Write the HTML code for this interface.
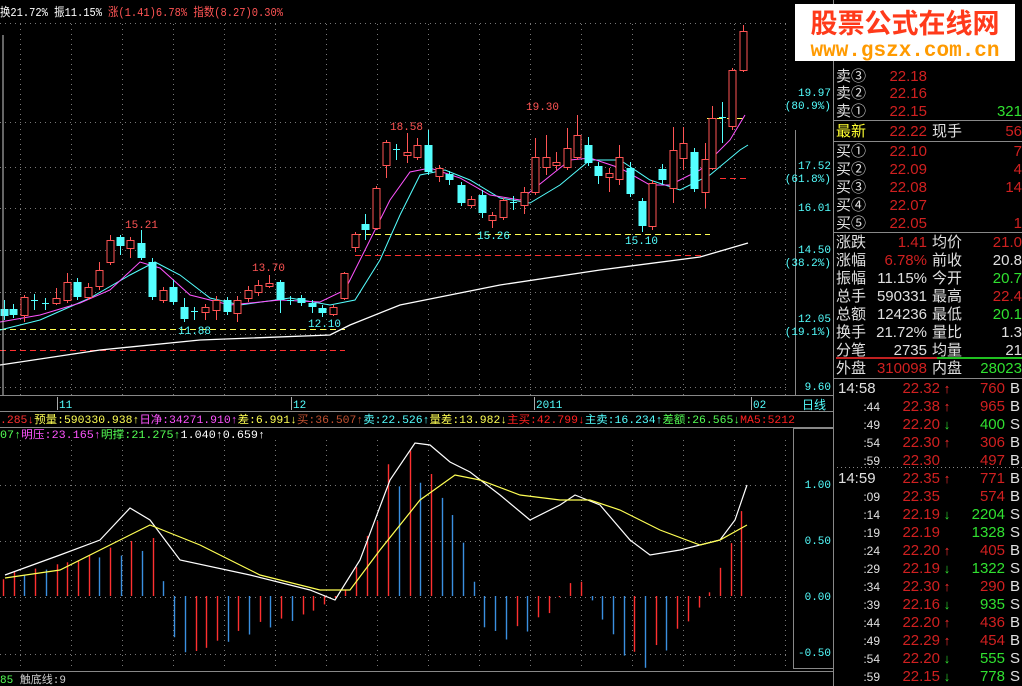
<!DOCTYPE html>
<html><head><meta charset="utf-8"><style>
body{margin:0;background:#000;width:1022px;height:686px;overflow:hidden;font-family:"Liberation Mono","Noto Sans CJK SC",monospace;}
svg{position:absolute;left:0;top:0}
text{font-family:"Liberation Mono","Noto Sans CJK SC",monospace}
.cj{font-family:"Liberation Sans","Noto Sans CJK SC",sans-serif}
</style></head><body>
<svg id="s" width="1022" height="686" viewBox="0 0 1022 686" xmlns="http://www.w3.org/2000/svg">
<rect width="1022" height="686" fill="#000"/>
<g id="grid"></g><g id="lines"></g><g id="cand"></g><g id="low"></g>
<text x="0" y="16" font-size="12" fill="#fff" textLength="102" lengthAdjust="spacingAndGlyphs">换21.72% 振11.15%</text>
<text x="108" y="16" font-size="12" fill="#ff5454" textLength="175" lengthAdjust="spacingAndGlyphs">涨(1.41)6.78% 指数(8.27)0.30%</text>
<line x1="3" y1="35" x2="3" y2="395" stroke="#ccc" stroke-width="1"/>
<line x1="0" y1="395.5" x2="833" y2="395.5" stroke="#888"/>
<line x1="0" y1="411.5" x2="833" y2="411.5" stroke="#888"/>
<line x1="0" y1="427.5" x2="833" y2="427.5" stroke="#888"/>
<line x1="0" y1="671.5" x2="833" y2="671.5" stroke="#888"/>
<line x1="795.5" y1="130" x2="795.5" y2="395" stroke="#888"/>
<rect x="793.5" y="428.5" width="40" height="240" fill="none" stroke="#888"/>
<line x1="833.5" y1="0" x2="833.5" y2="686" stroke="#888"/>
<g font-size="11" fill="#54ffff" text-anchor="end">
<text x="831" y="96">19.97</text><text x="831" y="109">(80.9%)</text>
<text x="831" y="169">17.52</text><text x="831" y="182">(61.8%)</text>
<text x="831" y="211">16.01</text>
<text x="831" y="253">14.50</text><text x="831" y="266">(38.2%)</text>
<text x="831" y="322">12.05</text><text x="831" y="335">(19.1%)</text>
<text x="831" y="390">9.60</text>
<text x="831" y="488">1.00</text><text x="831" y="544">0.50</text><text x="831" y="600">0.00</text><text x="831" y="656">-0.50</text>
</g>
<text x="802" y="409" font-size="12" fill="#54ffff">日线</text>
<g font-size="11" fill="#54ffff"><text x="59" y="408">11</text><text x="293" y="408">12</text><text x="536" y="408">2011</text><text x="753" y="408">02</text></g>
<g stroke="#aaa"><line x1="57.5" y1="397" x2="57.5" y2="410"/><line x1="291.5" y1="397" x2="291.5" y2="410"/><line x1="534.5" y1="397" x2="534.5" y2="410"/><line x1="751.5" y1="397" x2="751.5" y2="410"/></g>
<g font-size="11">
<text x="0" y="423" textLength="795" lengthAdjust="spacingAndGlyphs"><tspan fill="#ff3030">.285↓</tspan><tspan fill="#ffff54">预量:590330.938↑</tspan><tspan fill="#ff54ff">日净:34271.910↑</tspan><tspan fill="#ffff54">差:6.991↓</tspan><tspan fill="#c05030">买:36.507↑</tspan><tspan fill="#54ffff">卖:22.526↑</tspan><tspan fill="#ffff54">量差:13.982↓</tspan><tspan fill="#ff2020">主买:42.799↓</tspan><tspan fill="#54ffff">主卖:16.234↑</tspan><tspan fill="#54ff54">差额:26.565↓</tspan><tspan fill="#ff2020">MA5:5212</tspan></text>
<text x="0" y="438" textLength="265" lengthAdjust="spacingAndGlyphs"><tspan fill="#54ff54">07↑</tspan><tspan fill="#ff54ff">明压:23.165↑</tspan><tspan fill="#54ff54">明撑:21.275↑</tspan><tspan fill="#fff">1.040↑0.659↑</tspan></text>
<text x="0" y="683"><tspan fill="#54ff54">85 </tspan><tspan fill="#ccc">触底线:9</tspan></text>
</g>
<g font-size="11">
<text x="125" y="228" fill="#ff5454">15.21</text><text x="252" y="271" fill="#ff5454">13.70</text>
<text x="178" y="334" fill="#54ffff">11.88</text><text x="308" y="327" fill="#54ffff">12.10</text>
<text x="390" y="130" fill="#ff5454">18.58</text><text x="526" y="110" fill="#ff5454">19.30</text>
<text x="477" y="239" fill="#54ffff">15.26</text><text x="625" y="244" fill="#54ffff">15.10</text>
</g>
<rect x="795" y="4" width="220" height="57" fill="#fff"/>
<text x="905" y="33" font-size="27" font-weight="bold" fill="#ff3a1a" text-anchor="middle" class="cj">股票公式在线网</text>
<text x="905" y="56" font-size="21" font-weight="bold" fill="#ff9a00" text-anchor="middle" font-family="Liberation Sans,sans-serif">www.gszx.com.cn</text>
<g id="rp" font-size="15"></g>
</svg>
<script>
const NS="http://www.w3.org/2000/svg";
function el(p,t,a,txt){const e=document.createElementNS(NS,t);for(const k in a)e.setAttribute(k,a[k]);if(txt!==undefined)e.textContent=txt;document.getElementById(p).appendChild(e);return e;}
for(const y of [122,167,208,250,292,334,387,485,541,597,654]){el('grid','line',{x1:0,x2:790,y1:y+.5,y2:y+.5,stroke:'#777','stroke-dasharray':'1 4'});}
for(let x=20;x<790;x+=51){el('grid','line',{x1:x+.5,x2:x+.5,y1:24,y2:395,stroke:'#777','stroke-dasharray':'1 4'});el('grid','line',{x1:x+.5,x2:x+.5,y1:440,y2:670,stroke:'#777','stroke-dasharray':'1 4'});}
el('grid','line',{x1:0,x2:790,y1:23.5,y2:23.5,stroke:'#777','stroke-dasharray':'1 4'});
const dl=[[0,345,329,'#ffff54'],[0,345,350,'#ff3030'],[355,710,234,'#ffff54'],[355,705,255,'#ff3030'],[720,750,178,'#ff3030'],[707,745,118,'#ffff54']];
for(const d of dl)el('lines','line',{x1:d[0],x2:d[1],y1:d[2]+.5,y2:d[2]+.5,stroke:d[3],'stroke-dasharray':'6 4'});
function pl(p,pts,c,w){el(p,'polyline',{points:pts.map(q=>q.join(',')).join(' '),fill:'none',stroke:c,'stroke-width':w||1});}
pl('lines',[[0,365],[100,350],[200,340],[330,335],[350,325],[400,305],[500,285],[600,270],[700,257],[748,243]],'#fff',1.3);
pl('lines',[[0,330],[40,320],[90,298],[130,275],[155,262],[180,275],[210,298],[240,305],[290,298],[330,305],[355,300],[380,260],[400,215],[420,175],[445,170],[470,180],[500,198],[530,203],[560,185],[590,160],[620,160],[650,180],[680,190],[710,175],[740,150],[748,145]],'#54ffff');
pl('lines',[[0,322],[40,315],[80,303],[110,290],[140,262],[160,268],[190,295],[230,305],[280,300],[320,302],[345,290],[370,240],[390,200],[410,172],[430,168],[460,178],[490,195],[520,200],[545,180],[570,160],[590,158],[620,168],[650,185],[670,185],[700,170],[730,140],[745,115]],'#ff54ff');
const C=[[4,309,316,300,320,'c'],[13,309,315,304,318,'c'],[24,297,315,295,322,'r'],[34,300,301,294,310,'x'],[45,303,304,298,310,'x'],[56,298,303,288,305,'r'],[67,282,300,273,303,'r'],[77,282,297,278,300,'c'],[88,287,297,283,300,'r'],[99,270,286,262,290,'r'],[110,240,262,235,265,'r'],[120,237,246,235,255,'c'],[130,240,248,237,258,'r'],[141,243,258,230,260,'c'],[152,262,297,258,300,'c'],[163,290,300,287,303,'r'],[173,287,302,280,305,'c'],[184,307,319,298,322,'c'],[194,311,313,307,320,'x'],[205,307,312,304,320,'r'],[216,300,310,296,320,'r'],[227,300,312,297,315,'c'],[237,300,313,296,322,'r'],[248,290,298,286,302,'r'],[258,285,292,280,296,'r'],[269,283,286,275,288,'r'],[280,282,300,280,313,'c'],[290,300,302,296,305,'x'],[301,298,303,295,306,'c'],[312,303,307,300,313,'c'],[322,308,313,305,317,'c'],[333,307,314,305,316,'r'],[344,273,298,272,300,'r'],[355,234,247,232,252,'r'],[365,224,230,214,240,'c'],[376,188,228,186,230,'r'],[386,142,165,140,178,'r'],[396,149,151,144,160,'x'],[407,152,155,133,163,'r'],[417,145,157,138,160,'r'],[428,145,172,130,175,'c'],[439,168,176,165,182,'r'],[449,174,180,171,185,'c'],[461,185,203,182,206,'c'],[471,199,205,196,208,'r'],[482,195,213,190,218,'c'],[492,215,220,212,228,'r'],[503,200,217,198,220,'r'],[513,202,204,196,210,'x'],[524,192,205,187,214,'r'],[535,157,192,138,195,'r'],[546,157,167,135,175,'r'],[556,162,165,152,170,'r'],[567,148,167,128,170,'r'],[577,135,157,115,160,'r'],[588,145,163,137,166,'c'],[598,166,176,162,184,'c'],[609,173,177,168,192,'r'],[619,157,179,145,185,'r'],[630,168,194,162,197,'c'],[642,201,226,198,232,'c'],[652,183,226,180,230,'r'],[662,169,180,164,185,'c'],[673,150,188,127,203,'r'],[683,143,158,127,170,'r'],[694,152,189,148,192,'c'],[705,159,192,143,208,'r'],[712,118,168,106,170,'r'],[722,117,119,102,143,'x'],[732,70,126,68,130,'r'],[743,31,70,25,72,'r']];
for(const c of C){const col=c[5]=='r'?'#ff5454':'#54ffff';
 el('cand','line',{x1:c[0]+.5,x2:c[0]+.5,y1:c[3],y2:c[4],stroke:col});
 if(c[5]=='x'){el('cand','line',{x1:c[0]-3,x2:c[0]+4,y1:c[1]+.5,y2:c[1]+.5,stroke:col});}
 else if(c[5]=='r'){el('cand','rect',{x:c[0]-3,y:c[1]+.5,width:7,height:Math.max(1,c[2]-c[1]),fill:'#000',stroke:col});}
 else el('cand','rect',{x:c[0]-3.5,y:c[1],width:8,height:Math.max(2,c[2]-c[1]),fill:col});}
const K=[[5,20],[40,25],[80,35],[120,45],[140,50],[150,55],[160,40],[170,-30],[185,-55],[200,-50],[230,-40],[260,-30],[300,-20],[330,-5],[345,5],[370,60],[390,120],[405,130],[420,120],[440,100],[460,60],[475,10],[485,-30],[500,-40],[530,-30],[555,-10],[565,10],[580,15],[595,-10],[620,-50],[640,-65],[660,-55],[690,-20],[705,-5],[715,15],[730,50],[745,85]];
function iv(x){for(let i=1;i<K.length;i++){if(x<=K[i][0]){const a=K[i-1],b=K[i];return a[1]+(b[1]-a[1])*(x-a[0])/(b[0]-a[0]);}}return K[K.length-1][1];}
let prev=0;let i=0;
for(let x=3;x<=746;x+=10.7){const v=iv(x)*(0.85+0.3*Math.abs(Math.sin(i*1.7)));i++;
 const col=(v>prev)?'#ff3030':'#3a90e0';prev=v;
 el('low','line',{x1:Math.round(x)+.5,x2:Math.round(x)+.5,y1:596,y2:596-v,stroke:col,'stroke-width':1.4});}
pl('low',[[5,575],[60,555],[100,540],[130,508],[150,520],[180,560],[250,575],[310,590],[335,600],[360,560],[390,480],[415,443],[430,445],[450,462],[470,472],[500,495],[530,520],[560,505],[575,495],[600,505],[630,540],[650,555],[680,550],[720,540],[735,520],[747,485]],'#fff',1.2);
pl('low',[[5,578],[60,570],[120,540],[150,525],[200,545],[260,575],[320,590],[350,590],[380,550],[420,500],[455,475],[480,480],[520,495],[560,500],[590,500],[620,510],[660,530],[700,545],[720,540],[747,525]],'#ffff54',1.2);
const W='#e0e0e0',R='#d02020',G='#30e030';
function tx(x,y,s,c,anc,fs){const a={x:x,y:y,fill:c,'class':'cj'};if(anc)a['text-anchor']=anc;if(fs)a['font-size']=fs;el('rp','text',a,s);}
const rows=[['卖③','22.18',76],['卖②','22.16',93],['卖①','22.15',111]];
for(const r of rows){tx(836,r[2]+5,r[0],W);tx(927,r[2]+5,r[1],R,'end');}
tx(1022,116,'321',G,'end');
el('rp','line',{x1:833,x2:1022,y1:120.5,y2:120.5,stroke:'#888'});
tx(836,136,'最新','#ffff30');tx(927,136,'22.22',R,'end');tx(932,136,'现手',W);tx(1022,136,'56',R,'end');
el('rp','line',{x1:833,x2:1022,y1:141.5,y2:141.5,stroke:'#888'});
const b=[['买①','22.10','7'],['买②','22.09','4'],['买③','22.08','14'],['买④','22.07',''],['买⑤','22.05','1']];
b.forEach((r,k)=>{const y=156+k*18;tx(836,y,r[0],W);tx(927,y,r[1],R,'end');tx(1022,y,r[2],R,'end');});
el('rp','line',{x1:833,x2:1022,y1:232.5,y2:232.5,stroke:'#888'});
const st=[['涨跌','1.41',R,'均价','21.0',R],['涨幅','6.78%',R,'前收','20.8',W],['振幅','11.15%',W,'今开','20.7',G],['总手','590331',W,'最高','22.4',R],['总额','124236',W,'最低','20.1',G],['换手','21.72%',W,'量比','1.3',W],['分笔','2735',W,'均量','21',W]];
st.forEach((r,k)=>{const y=247+k*18;tx(836,y,r[0],W);tx(927,y,r[1],r[2],'end');tx(932,y,r[3],W);tx(1022,y,r[4],r[5],'end');});
el('rp','line',{x1:836,x2:937,y1:358,y2:358,stroke:'#c02020','stroke-width':2});
el('rp','line',{x1:937,x2:1022,y1:358,y2:358,stroke:'#20c020','stroke-width':2});
tx(836,373,'外盘',W);tx(927,373,'310098',R,'end');tx(932,373,'内盘',W);tx(1022,373,'28023',G,'end');
el('rp','line',{x1:833,x2:1022,y1:378.5,y2:378.5,stroke:'#888'});
const tr=[['14:58','22.32','↑','760','B'],[':44','22.38','↑','965','B'],[':49','22.20','↓','400','S'],[':54','22.30','↑','306','B'],[':59','22.30','','497','B'],['14:59','22.35','↑','771','B'],[':09','22.35','','574','B'],[':14','22.19','↓','2204','S'],[':19','22.19','','1328','S'],[':24','22.20','↑','405','B'],[':29','22.19','↓','1322','S'],[':34','22.30','↑','290','B'],[':39','22.16','↓','935','S'],[':44','22.20','↑','436','B'],[':49','22.29','↑','454','B'],[':54','22.20','↓','555','S'],[':59','22.15','↓','778','S']];
tr.forEach((r,k)=>{const y=393+k*18;const big=r[0].length>3;
 tx(big?838:880,y,r[0],W,big?null:'end',big?15:12);
 tx(940,y,r[1],R,'end');
 if(r[2])tx(947,y,r[2],r[2]=='↑'?'#ff3030':G,'middle',13);
 tx(1005,y,r[3],r[4]=='B'?R:G,'end');tx(1010,y,r[4],W);});
el('rp','line',{x1:833,x2:1022,y1:467.5,y2:467.5,stroke:'#888','stroke-dasharray':'1 3'});
</script>
</body></html>
